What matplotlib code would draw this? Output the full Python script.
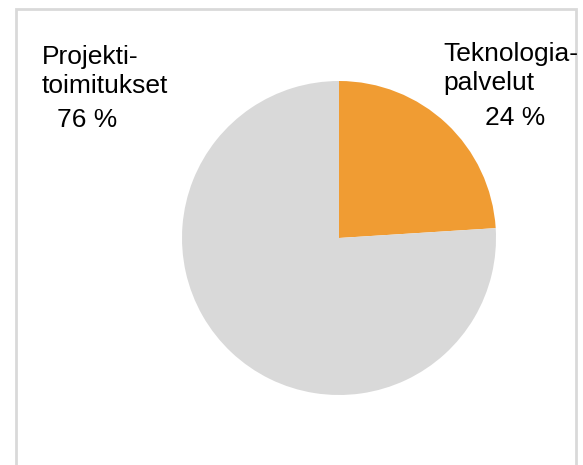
import matplotlib
matplotlib.use("Agg")
import matplotlib.pyplot as plt

# osuudet liikevaihdosta
labels = ["Teknologia-\npalvelut", "Projekti-\ntoimitukset"]
values = [24, 76]
colors = ["#F09C33", "#D9D9D9"]

W, H = 583, 465
fig = plt.figure(figsize=(W / 100, H / 100), dpi=100)
plt.rcParams["font.family"] = ["Liberation Sans", "DejaVu Sans"]

# taustakehys pikselikoordinaateissa
bg = fig.add_axes([0, 0, 1, 1])
bg.set_xlim(0, W)
bg.set_ylim(H, 0)
bg.axis("off")
bg.plot([15.5, 15.5, 575.5, 575.5], [H + 10, 9, 9, H + 10],
        color="#D9D9D9", linewidth=2, solid_joinstyle="miter")

cx, cy, r = 339, 238, 157
ax = fig.add_axes([(cx - r) / W, (H - cy - r) / H, 2 * r / W, 2 * r / H])
ax.pie(values, colors=colors, startangle=90, counterclock=False,
       radius=1, wedgeprops=dict(linewidth=0))
ax.set_xlim(-1, 1)
ax.set_ylim(-1, 1)
ax.set_aspect("equal")
ax.axis("off")

fs = 19
# Teknologiapalvelut
bg.text(443, 42, labels[0], fontsize=fs, ha="left", va="top", linespacing=1.25)
bg.text(485, 106, f"{values[0]} %", fontsize=fs, ha="left", va="top")
# Projektitoimitukset
bg.text(42, 45, labels[1], fontsize=fs, ha="left", va="top", linespacing=1.25)
bg.text(57, 108, f"{values[1]} %", fontsize=fs, ha="left", va="top")

fig.savefig("out.png", dpi=100)
